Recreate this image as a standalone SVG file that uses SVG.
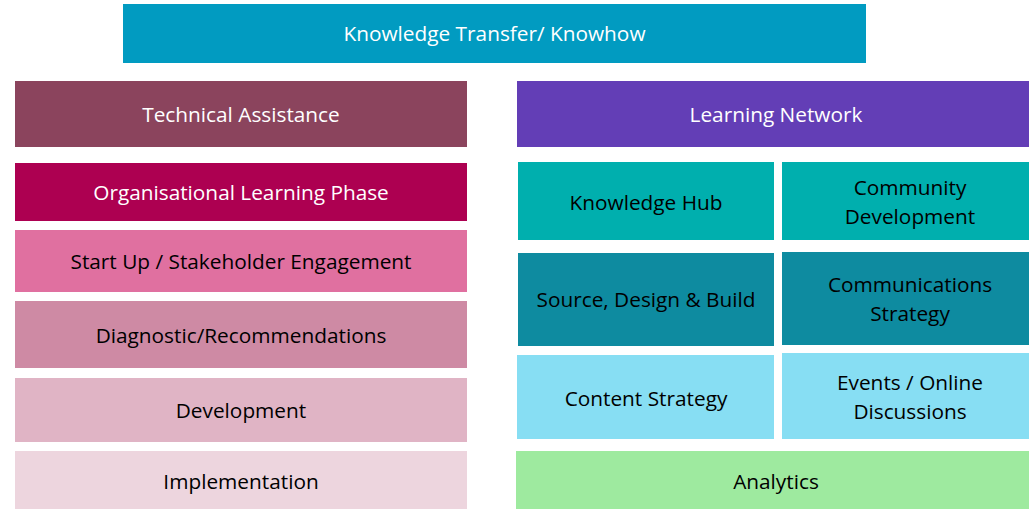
<svg xmlns="http://www.w3.org/2000/svg" width="1029" height="509" viewBox="0 0 1029 509">
<style>
text{font-family:"Open Sans","Liberation Sans",sans-serif;font-size:20.8px;text-anchor:middle;dominant-baseline:central}
.w{fill:#ffffff}
.k{fill:#000000}
</style>
<rect width="1029" height="509" fill="#ffffff"/>
<g id="knowledge-transfer"><rect x="123" y="4" width="743" height="59" fill="#019BC1"/><text class="w" x="494.5" y="33">Knowledge Transfer/ Knowhow</text></g>
<g id="technical-assistance"><rect x="15" y="81" width="452" height="66" fill="#8B445D"/><text class="w" x="241" y="114">Technical Assistance</text></g>
<g id="org-learning"><rect x="15" y="163" width="452" height="58" fill="#AD0051"/><text class="w" x="241" y="192">Organisational Learning Phase</text></g>
<g id="start-up"><rect x="15" y="230" width="452" height="62" fill="#E070A0"/><text class="k" x="241" y="261">Start Up / Stakeholder Engagement</text></g>
<g id="diagnostic"><rect x="15" y="301" width="452" height="67" fill="#CE8AA4"/><text class="k" x="241" y="334.5">Diagnostic/Recommendations</text></g>
<g id="development"><rect x="15" y="378" width="452" height="64" fill="#E0B4C5"/><text class="k" x="241" y="410">Development</text></g>
<g id="implementation"><rect x="15" y="451" width="452" height="58" fill="#EDD5DE"/><text class="k" x="241" y="481">Implementation</text></g>
<g id="learning-network"><rect x="517" y="81" width="512" height="66" fill="#633EB6"/><text class="w" x="776" y="114">Learning Network</text></g>
<g id="knowledge-hub"><rect x="518" y="162" width="256" height="78" fill="#00AFAE"/><text class="k" x="646" y="202">Knowledge Hub</text></g>
<g id="community-development"><rect x="782" y="162" width="247" height="78" fill="#00AFAE"/><text class="k" x="910" y="187">Community</text><text class="k" x="910" y="216">Development</text></g>
<g id="source-design-build"><rect x="518" y="253" width="256" height="93" fill="#0E8BA0"/><text class="k" x="646" y="299">Source, Design &amp; Build</text></g>
<g id="communications-strategy"><rect x="782" y="252" width="247" height="93" fill="#0E8BA0"/><text class="k" x="910" y="284">Communications</text><text class="k" x="910" y="313">Strategy</text></g>
<g id="content-strategy"><rect x="517" y="355" width="257" height="84" fill="#87DEF3"/><text class="k" x="646" y="398">Content Strategy</text></g>
<g id="events"><rect x="782" y="353" width="247" height="86" fill="#87DEF3"/><text class="k" x="910" y="382">Events / Online</text><text class="k" x="910" y="411">Discussions</text></g>
<g id="analytics"><rect x="516" y="451" width="513" height="58" fill="#9EEA9F"/><text class="k" x="776" y="481">Analytics</text></g>
<g id="connectors"></g>
</svg>
